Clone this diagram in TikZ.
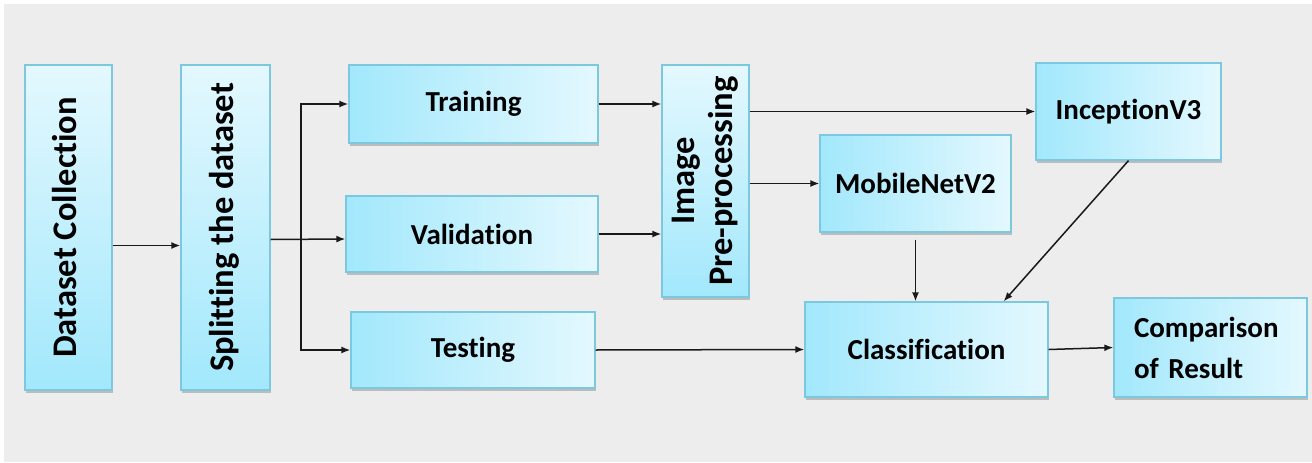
\documentclass[tikz,border=0pt]{standalone}
\usepackage{fontspec}
\setmainfont{Carlito}[Ligatures=CommonOff]
\usepackage{graphicx}
\usetikzlibrary{shadows,arrows.meta}
\definecolor{bg}{HTML}{EDEDED}
\definecolor{boxdark}{HTML}{A2E8FC}
\definecolor{boxlight}{HTML}{E4F8FE}
\definecolor{boxedge}{HTML}{7CC8DE}
\newcommand{\vtext}[1]{\rotatebox{90}{\begin{tabular}{@{}c@{}}#1\end{tabular}}}
\begin{document}
\begin{tikzpicture}[x=1pt,y=-1pt,
  blk/.style={draw=boxedge, line width=1.3pt, left color=boxdark, right color=boxlight,
    font=\bfseries\fontsize{29}{38}\selectfont, inner sep=0pt,
    drop shadow={shadow xshift=1pt, shadow yshift=-3pt, opacity=0.3, fill=black!70}},
  vblk/.style={blk, top color=boxlight, bottom color=boxdark,
    font=\bfseries\fontsize{34.5}{38}\selectfont},
  arr/.style={-{Latex[length=9pt,width=7pt]}, line width=1.5pt, black!90}]
\useasboundingbox (0,0) rectangle (1312,463);
\fill[white] (0,0) rectangle (1312,463);
\fill[bg] (4,4) rectangle (1312,462);

% boxes
\node[vblk, minimum width=87pt, minimum height=325pt] (dc) at (68.5,227.5) {\vtext{Dataset Collection}};
\node[vblk, minimum width=89pt, minimum height=325pt] (sp) at (225.5,227.5) {\vtext{Splitting the dataset}};
\node[blk, minimum width=249pt, minimum height=78pt] (tr) at (473.5,104) {Training};
\node[blk, minimum width=252pt, minimum height=76pt] (va) at (472,234) {Validation};
\node[blk, minimum width=244pt, minimum height=76pt] (te) at (473,350) {Testing};
\node[vblk, minimum width=87pt, minimum height=232pt] (ipp) at (705.5,181) {\vtext{Image\\Pre-processing}};
\node[blk, minimum width=185pt, minimum height=97pt] (inc) at (1128.5,111.5) {InceptionV3};
\node[blk, minimum width=191pt, minimum height=97pt] (mob) at (915.5,183.5) {MobileNetV2};
\node[blk, minimum width=243pt, minimum height=95pt] (cls) at (926.5,349.5) {Classification};
\node[blk, minimum width=193pt, minimum height=99pt, text width=153pt, align=left,
  font=\bfseries\fontsize{29}{41}\selectfont] (cmp) at (1210.5,347.5) {Comparison\\\mbox{of Result}};

% connectors
\coordinate (bus) at (301,240);
\draw[arr] ([yshift=-18pt]dc.east) -- ([yshift=-18pt]sp.west);
\draw[arr] ([yshift=-12pt]sp.east) -- ([yshift=-5pt]va.west);
\draw[arr] (bus) |- (tr.west);
\draw[arr] (bus) |- (te.west);
\draw[arr] (tr.east) -- (tr.east -| ipp.west);
\draw[arr] (va.east) -- (va.east -| ipp.west);
\draw[arr] (ipp.east |- inc.west) -- (inc.west);
\draw[arr] (ipp.east |- mob.west) -- (mob.west);
\draw[arr] ([yshift=-7pt]mob.south) -- (mob.south |- cls.north);
\draw[arr] (inc.south) -- ([xshift=-45pt]cls.north east);
\draw[arr] (te.east) -- (cls.west);
\draw[arr] (cls.east) -- (cmp.west);
\end{tikzpicture}
\end{document}
